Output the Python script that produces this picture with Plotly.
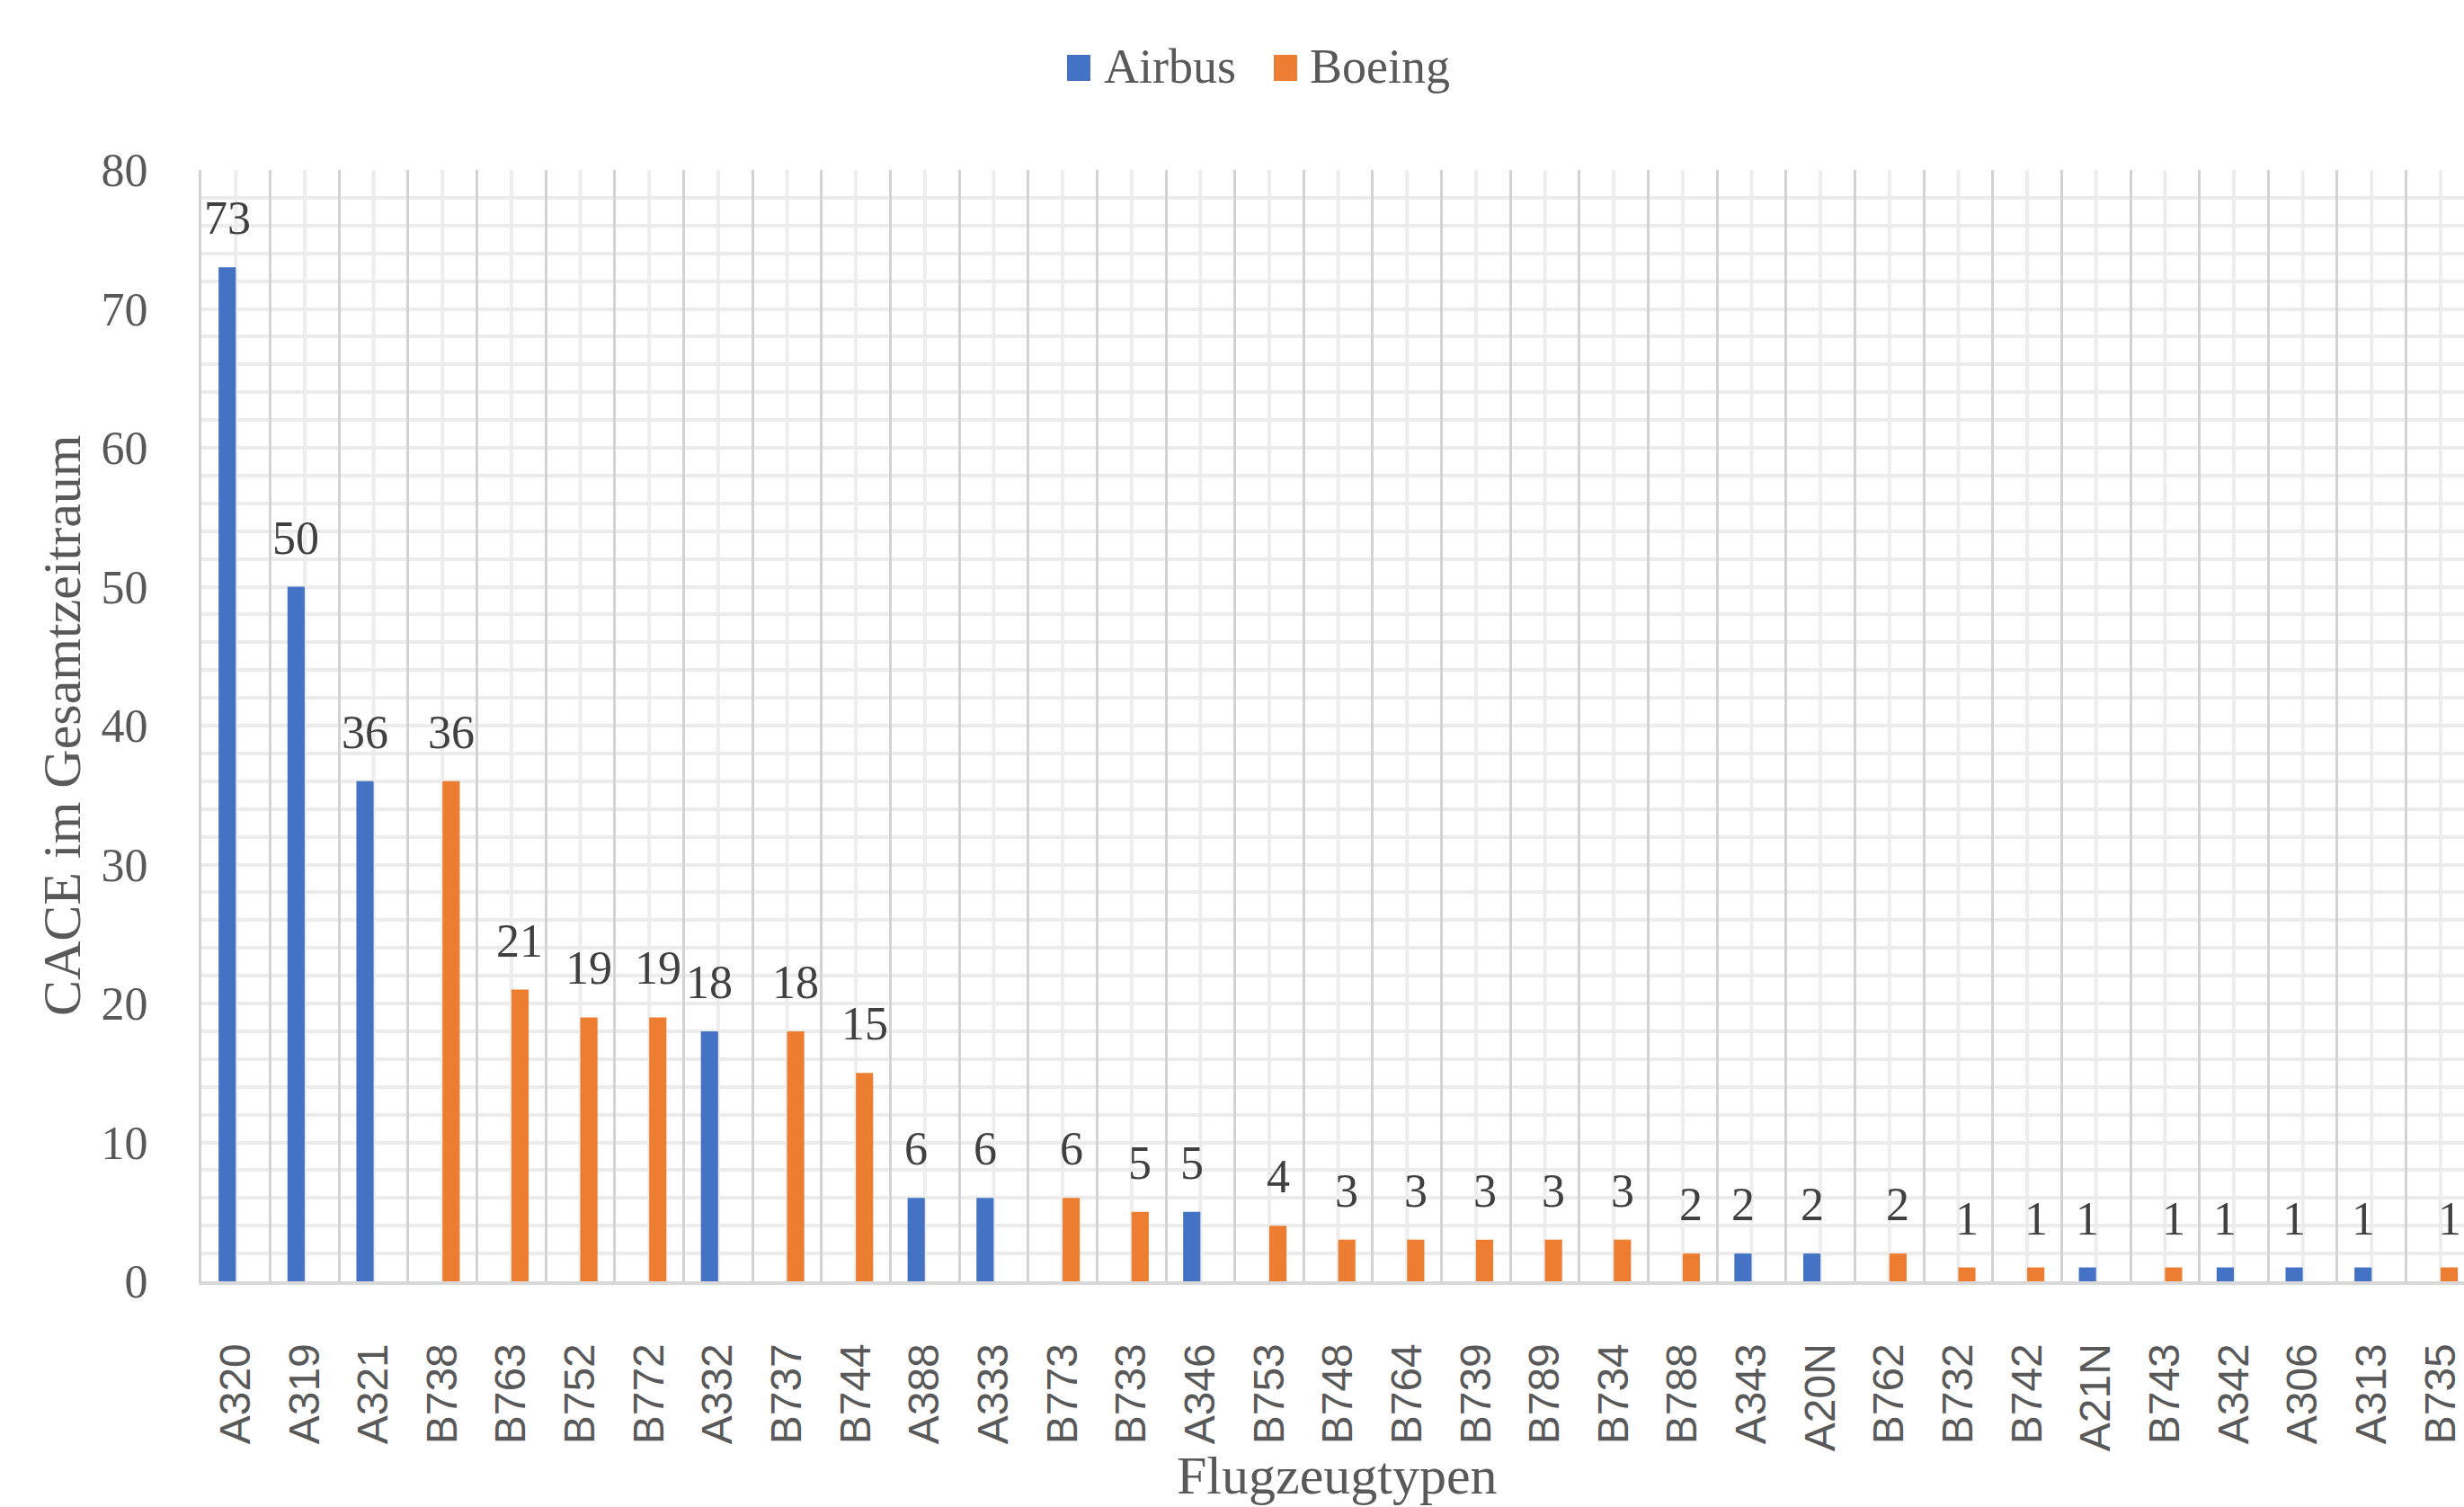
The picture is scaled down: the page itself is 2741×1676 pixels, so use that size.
import plotly.graph_objects as go

# ---------------- data ----------------
categories = ["A320", "A319", "A321", "B738", "B763", "B752", "B772", "A332", "B737", "B744",
              "A388", "A333", "B773", "B733", "A346", "B753", "B748", "B764", "B739", "B789",
              "B734", "B788", "A343", "A20N", "B762", "B732", "B742", "A21N", "B743", "A342",
              "A306", "A313", "B735"]
airbus = [73, 50, 36, None, None, None, None, 18, None, None,
          6, 6, None, None, 5, None, None, None, None, None,
          None, None, 2, 2, None, None, None, 1, None, 1,
          1, 1, None]
boeing = [None, None, None, 36, 21, 19, 19, None, 18, 15,
          None, None, 6, 5, None, 4, 3, 3, 3, 3,
          3, 2, None, None, 2, 1, 1, None, 1, None,
          None, None, 1]
series_names = ["Airbus", "Boeing"]
y_ticks = [0, 10, 20, 30, 40, 50, 60, 70, 80]
x_title = "Flugzeugtypen"
y_title = "CACE im Gesamtzeitraum"

# ---------------- styling / geometry ----------------
W, H = 2741, 1676
ML, MR, MT, MB = 224, 0, 189, 251
PW, PH = W - ML - MR, H - MT - MB
X_RANGE = [-0.5, 32.34]
BARGAP = 0.5
cat_px = PW / (X_RANGE[1] - X_RANGE[0])
bar_px = (1 - BARGAP) / 2 * cat_px

COL_A = "#4472C4"
COL_B = "#ED7D31"
TXT = "#595959"
SERIF = "Liberation Serif"
SANS = "Liberation Sans"


def px_x(px):
    return (px - ML) / PW


def px_y(py):
    return (H - MB - py) / PH


fig = go.Figure()
fig.add_trace(go.Bar(x=categories, y=airbus, name=series_names[0], marker_color=COL_A,
                     marker_line_width=0, showlegend=False))
fig.add_trace(go.Bar(x=categories, y=boeing, name=series_names[1], marker_color=COL_B,
                     marker_line_width=0, showlegend=False))

annotations = []
# data labels
for vals, sign in ((airbus, -1), (boeing, 1)):
    for c, v in zip(categories, vals):
        if v is None:
            continue
        annotations.append(dict(
            x=c, y=v, xref="x", yref="y", text=str(v), showarrow=False,
            xanchor="center", yanchor="bottom", xshift=sign * bar_px / 2, yshift=24,
            font=dict(family=SERIF, size=52, color="#404040")))

# axis titles
annotations.append(dict(x=px_x(69), y=0.5, xref="paper", yref="paper", text=y_title,
                        textangle=-90, showarrow=False, xanchor="center", yanchor="middle",
                        font=dict(family=SERIF, size=60, color=TXT)))
annotations.append(dict(x=px_x(1487), y=px_y(1641), xref="paper", yref="paper", text=x_title,
                        showarrow=False, xanchor="center", yanchor="middle",
                        font=dict(family=SERIF, size=60, color=TXT)))

# custom legend
shapes = []
legend_items = [(series_names[0], COL_A, 1187, 1226), (series_names[1], COL_B, 1417, 1455)]
for name, col, sx, tx in legend_items:
    shapes.append(dict(type="rect", xref="paper", yref="paper",
                       x0=px_x(sx), x1=px_x(sx + 26), y0=px_y(90), y1=px_y(61),
                       fillcolor=col, line=dict(width=0)))
    annotations.append(dict(x=px_x(tx), y=px_y(74), xref="paper", yref="paper", text=name,
                            showarrow=False, xanchor="left", yanchor="middle",
                            font=dict(family=SERIF, size=54, color=TXT)))

# light vertical lines at category centres
for c in categories:
    shapes.append(dict(type="line", xref="x", yref="paper", x0=c, x1=c, y0=0, y1=1,
                       layer="below", line=dict(color="#ededed", width=4)))

fig.update_layout(
    width=W, height=H,
    margin=dict(l=ML, r=MR, t=MT, b=MB, pad=0),
    paper_bgcolor="white", plot_bgcolor="white",
    barmode="group", bargap=BARGAP, bargroupgap=0,
    font=dict(family=SERIF, color=TXT),
    showlegend=False,
    annotations=annotations,
    shapes=shapes,
    xaxis=dict(
        type="category", categoryorder="array", categoryarray=categories,
        range=X_RANGE, tickson="boundaries",
        showgrid=True, gridcolor="#d3d3d3", gridwidth=3,
        showline=True, linecolor="#d9d9d9", linewidth=4,
        ticks="", tickangle=-90, ticklabelstandoff=46,
        tickfont=dict(family=SANS, size=48, color=TXT),
        automargin=False,
    ),
    yaxis=dict(
        range=[0, 80], tickvals=y_ticks, showgrid=False, zeroline=False,
        showline=True, linecolor="#d3d3d3", linewidth=3,
        ticks="", ticklabelstandoff=46,
        tickfont=dict(family=SERIF, size=52, color=TXT),
        minor=dict(dtick=2, tick0=0, showgrid=True, gridcolor="#ececec", gridwidth=4),
        automargin=False,
    ),
)

fig.write_html("out.html", config={"displayModeBar": False},
               post_script="document.body.style.margin='0';")
